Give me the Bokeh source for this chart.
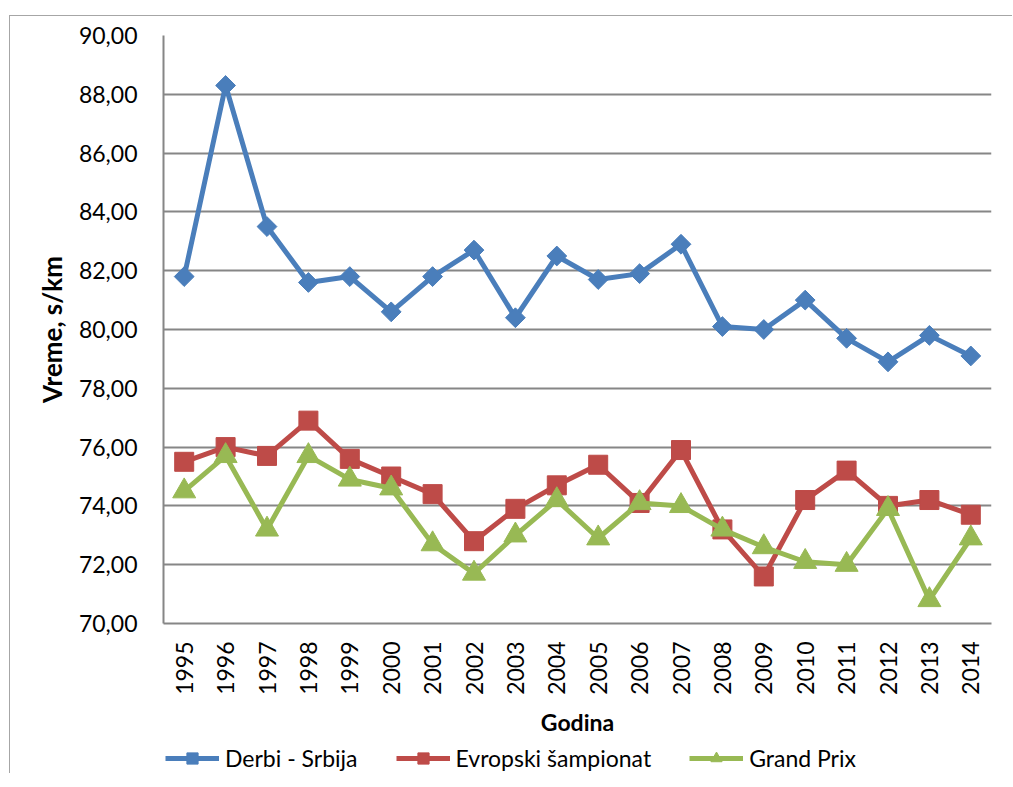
import math
from bokeh.plotting import figure
from bokeh.layouts import column
from bokeh.models import Range1d, FixedTicker, Legend, LegendItem
from bokeh.embed import file_html
from bokeh.resources import INLINE

years = ["1995", "1996", "1997", "1998", "1999", "2000", "2001", "2002", "2003", "2004",
         "2005", "2006", "2007", "2008", "2009", "2010", "2011", "2012", "2013", "2014"]
derbi = [81.8, 88.3, 83.5, 81.6, 81.8, 80.6, 81.8, 82.7, 80.4, 82.5,
         81.7, 81.9, 82.9, 80.1, 80.0, 81.0, 79.7, 78.9, 79.8, 79.1]
evropski = [75.5, 76.0, 75.7, 76.9, 75.6, 75.0, 74.4, 72.8, 73.9, 74.7,
            75.4, 74.1, 75.9, 73.2, 71.6, 74.2, 75.2, 74.0, 74.2, 73.7]
grand_prix = [74.5, 75.7, 73.2, 75.7, 74.9, 74.6, 72.7, 71.7, 73.0, 74.2,
              72.9, 74.1, 74.0, 73.2, 72.6, 72.1, 72.0, 73.9, 70.8, 72.9]
series_names = ["Derbi - Srbija", "Evropski šampionat", "Grand Prix"]
y_ticks = [70, 72, 74, 76, 78, 80, 82, 84, 86, 88, 90]
y_labels = ["70,00", "72,00", "74,00", "76,00", "78,00", "80,00", "82,00", "84,00", "86,00", "88,00", "90,00"]
x_title = "Godina"
y_title = "Vreme, s/km"

FONT = "Lato"
GRID = "#868686"
BORDER = "1px solid #a6a6a6"
BLUE = "#4a7ebb"
RED = "#be4b48"
GREEN = "#98b954"

p = figure(frame_width=827, frame_height=587, x_range=years, y_range=Range1d(70, 90),
           output_backend="svg", toolbar_location=None,
           min_border_left=153, min_border_top=19, min_border_right=22, min_border_bottom=114)
p.styles = {"margin-top": "15px", "margin-left": "9px",
            "border-left": BORDER, "border-top": BORDER}
p.outline_line_color = None
p.background_fill_color = "white"
p.border_fill_color = "white"

# axes
p.xgrid.visible = False
p.ygrid.ticker = FixedTicker(ticks=y_ticks)
p.ygrid.grid_line_color = GRID
p.ygrid.grid_line_width = 2

p.yaxis.ticker = FixedTicker(ticks=y_ticks)
p.yaxis.major_label_overrides = {t: l for t, l in zip(y_ticks, y_labels)}
for ax in (p.xaxis[0], p.yaxis[0]):
    ax.axis_line_color = GRID
    ax.axis_line_width = 2
    ax.major_tick_in = 0
    ax.major_tick_out = 0
    ax.minor_tick_in = 0
    ax.minor_tick_out = 0
    ax.major_label_text_font = FONT
    ax.major_label_text_font_size = "23px"
    ax.major_label_text_color = "black"
    ax.axis_label_text_font = FONT
    ax.axis_label_text_font_size = "23px"
    ax.axis_label_text_font_style = "bold"
    ax.axis_label_text_color = "black"

p.yaxis.major_label_standoff = 26
p.yaxis.axis_label = y_title
p.yaxis.axis_label_text_font_size = "26px"
p.yaxis.axis_label_standoff = 8
p.xaxis.major_label_orientation = math.pi / 2
p.xaxis.major_label_standoff = 18
p.xaxis.axis_label = x_title
p.xaxis.axis_label_standoff = 10

series = [(derbi, BLUE, dict(marker="square", angle=math.pi / 4, size=14)),
          (evropski, RED, dict(marker="square", size=19)),
          (grand_prix, GREEN, dict(marker="triangle", size=23))]

for vals, col, mk in series:
    p.line(years, vals, line_color=col, line_width=5)
    p.scatter(years, vals, fill_color=col, line_color=col, **mk)

# legend strip below the chart (same series, drawn out of view; only the legend shows)
lf = figure(width=1002, height=36, x_range=p.x_range, y_range=Range1d(0, 1),
            output_backend="svg", toolbar_location=None,
            x_axis_location=None, y_axis_location=None,
            min_border_left=0, min_border_right=0, min_border_top=0, min_border_bottom=0)
lf.styles = {"margin-left": "9px", "border-left": BORDER}
lf.outline_line_color = None
lf.xgrid.visible = False
lf.ygrid.visible = False
lf.background_fill_color = "white"
lf.border_fill_color = "white"

items = []
for name, (vals, col, mk) in zip(series_names, series):
    lr = lf.line(years, vals, line_color=col, line_width=5)
    sr = lf.scatter(years, vals, fill_color=col, line_color=col, **mk)
    items.append(LegendItem(label=name, renderers=[lr, sr]))

legend = Legend(items=items, orientation="horizontal", location=(2, 1),
                glyph_width=54, glyph_height=28, label_standoff=6, spacing=38,
                padding=0, margin=0, border_line_color=None, background_fill_alpha=0,
                label_text_font=FONT, label_text_font_size="23px", label_text_color="black")
lf.add_layout(legend, "center")

layout = column(p, lf, spacing=0)
open("out.html", "w").write(file_html(layout, INLINE))
